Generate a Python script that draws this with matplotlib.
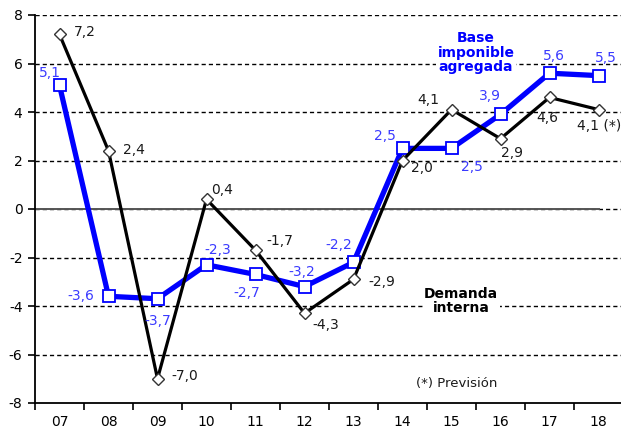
import matplotlib
matplotlib.use("Agg")
import matplotlib.pyplot as plt

# ── Data ──────────────────────────────────────────────────────────────────────
years = ["07", "08", "09", "10", "11", "12", "13", "14", "15", "16", "17", "18"]
base_imponible = [5.1, -3.6, -3.7, -2.3, -2.7, -3.2, -2.2, 2.5, 2.5, 3.9, 5.6, 5.5]
demanda_interna = [7.2, 2.4, -7.0, 0.4, -1.7, -4.3, -2.9, 2.0, 4.1, 2.9, 4.6, 4.1]
base_labels = ["5,1", "-3,6", "-3,7", "-2,3", "-2,7", "-3,2", "-2,2", "2,5", "2,5", "3,9", "5,6", "5,5"]
demanda_labels = ["7,2", "2,4", "-7,0", "0,4", "-1,7", "-4,3", "-2,9", "2,0", "4,1", "2,9", "4,6", "4,1 (*)"]

# label offsets in pixels (dx, dy)
base_offsets = [(-10, 12), (-28, 0), (0, -22), (11, 15), (-9, -19), (-3, 15),
                (-15, 17), (-18, 12), (20, -19), (-11, 18), (4, 17), (7, 18)]
demanda_offsets = [(25, 2), (25, 1), (27, 3), (16, 9), (24, 9), (21, -12),
                   (28, -3), (19, -8), (-23, 10), (12, -14), (-2, -21), (1, -16)]

BLUE = "#0000ff"
BLUE_TXT = "#3a3aff"
DARK = "#1a1a1a"

plt.rcParams["font.family"] = ["DejaVu Sans"]
plt.rcParams["axes.unicode_minus"] = False

fig = plt.figure(figsize=(6.21, 4.32), dpi=100)
ax = fig.add_axes([35 / 621, 1 - 403 / 432, 588 / 621, 388 / 432])

x = list(range(len(years)))

# grid
for v in range(-6, 9, 2):
    ax.axhline(v, color="black", lw=1.0, dashes=(3, 2.2), zorder=1)
# solid zero line up to the last category
ax.plot([-0.5, 11], [0, 0], color="#555555", lw=1.4, zorder=2)

ax.plot(x, base_imponible, color=BLUE, lw=3.8, marker="s", markersize=8,
        markerfacecolor="white", markeredgecolor=BLUE, markeredgewidth=1.3, zorder=3)
ax.plot(x, demanda_interna, color="black", lw=2.3, marker="D", markersize=6.5,
        markerfacecolor="white", markeredgecolor="#333333", markeredgewidth=1.0, zorder=4)

for i in x:
    ax.annotate(base_labels[i], (i, base_imponible[i]), xytext=base_offsets[i],
                textcoords="offset pixels", ha="center", va="center",
                color=BLUE_TXT, fontsize=10, zorder=5)
    ax.annotate(demanda_labels[i], (i, demanda_interna[i]), xytext=demanda_offsets[i],
                textcoords="offset pixels", ha="center", va="center",
                color=DARK, fontsize=10, zorder=5, annotation_clip=False)

ax.text(8.5, 6.45, "Base\nimponible\nagregada", color=BLUE, fontsize=10,
        fontweight="bold", ha="center", va="center", linespacing=1.05,
        bbox=dict(facecolor="white", edgecolor="none", pad=1), zorder=5)
ax.text(8.2, -3.8, "Demanda\ninterna", color="black", fontsize=10,
        fontweight="bold", ha="center", va="center", linespacing=1.05,
        bbox=dict(facecolor="white", edgecolor="none", pad=1), zorder=5)
ax.text(8.1, -7.2, "(*) Previsión", color=DARK, fontsize=9.5,
        ha="center", va="center", zorder=5)

ax.set_xlim(-0.5, 11.5)
ax.set_ylim(-8, 8)
ax.set_yticks(range(-8, 9, 2))
ax.set_xticks(x)
ax.set_xticklabels(years)
ax.set_xticks([i - 0.5 for i in range(len(years) + 1)], minor=True)
ax.tick_params(axis="x", which="major", length=0, pad=9, labelsize=10)
ax.tick_params(axis="x", which="minor", length=5, width=1.2, direction="out")
ax.tick_params(axis="y", length=5, width=1.2, direction="out", pad=4, labelsize=10)

for s in ["top", "right"]:
    ax.spines[s].set_visible(False)
ax.spines["left"].set_linewidth(1.3)
ax.spines["bottom"].set_linewidth(1.3)

fig.savefig("out.png", dpi=100)
print("Saved: out.png")
